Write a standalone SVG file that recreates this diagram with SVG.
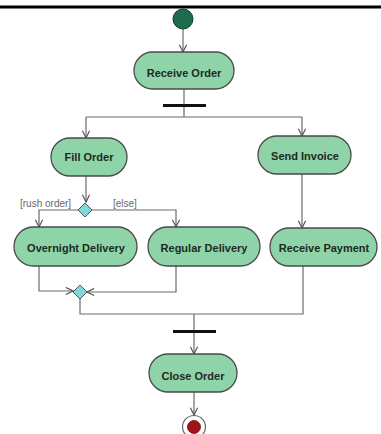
<svg xmlns="http://www.w3.org/2000/svg" width="381" height="434" viewBox="0 0 381 434">
  <style>
    .action rect { fill: #8fd3a9; stroke: #4a4a4a; stroke-width: 1.3; }
    .action text { font-family: "Liberation Sans", Arial, sans-serif; font-size: 11px; font-weight: bold; fill: #1e2a22; text-anchor: middle; }
    .flow { fill: none; stroke: #6a6a6a; stroke-width: 1.2; }
    .bar { fill: #111; }
    .decision { fill: #7fd8dc; stroke: #555; stroke-width: 1; }
    .guard { font-family: "Liberation Sans", Arial, sans-serif; font-size: 10px; fill: #666; }
  </style>
  <defs>
    <marker id="open" viewBox="0 0 10 10" refX="9" refY="5" markerWidth="9" markerHeight="9" markerUnits="userSpaceOnUse" orient="auto">
      <path d="M1,1 L9,5 L1,9" fill="none" stroke="#555" stroke-width="1.3"/>
    </marker>
  </defs>

  <rect width="381" height="434" fill="#ffffff"/>
  <rect x="0" y="5.5" width="381" height="3" fill="#000"/>

  <!-- connectors -->
  <g id="connectors">
    <path class="flow" d="M183,29 V52" marker-end="url(#open)"/>
    <path class="flow" d="M184,89 V117"/>
    <path class="flow" d="M86,117 H302"/>
    <path class="flow" d="M86,117 V138" marker-end="url(#open)"/>
    <path class="flow" d="M302,117 V136" marker-end="url(#open)"/>
    <path class="flow" d="M86,176 V202" marker-end="url(#open)"/>
    <path class="flow" d="M78,210 H39 V227" marker-end="url(#open)"/>
    <path class="flow" d="M92,210 H176 V227" marker-end="url(#open)"/>
    <path class="flow" d="M302,174 V228" marker-end="url(#open)"/>
    <path class="flow" d="M39,266 V291 H73" marker-end="url(#open)"/>
    <path class="flow" d="M176,266 V292 H87" marker-end="url(#open)"/>
    <path class="flow" d="M80,299 V314 H303 V266"/>
    <path class="flow" d="M194,314 V354" marker-end="url(#open)"/>
    <path class="flow" d="M194,392 V415" marker-end="url(#open)"/>
  </g>

  <!-- initial node -->
  <g id="start">
    <circle cx="183" cy="19" r="10" fill="#1f6b4e" stroke="#0f3f2d" stroke-width="1"/>
  </g>

  <g id="receive-order" class="action">
    <rect x="134" y="52" width="100" height="37" rx="18.5"/>
    <text x="184" y="77">Receive Order</text>
  </g>

  <g id="fork">
    <rect class="bar" x="163" y="104" width="43" height="3"/>
  </g>

  <g id="fill-order" class="action">
    <rect x="51" y="138" width="76" height="38" rx="19"/>
    <text x="89" y="161">Fill Order</text>
  </g>

  <g id="send-invoice" class="action">
    <rect x="258" y="136" width="93" height="38" rx="19"/>
    <text x="305" y="160">Send Invoice</text>
  </g>

  <g id="decision">
    <path class="decision" d="M85,203 L92,210 L85,217 L78,210 Z"/>
    <text class="guard" x="20" y="207">[rush order]</text>
    <text class="guard" x="113" y="207">[else]</text>
  </g>

  <g id="overnight-delivery" class="action">
    <rect x="14" y="227" width="123" height="39" rx="19.5"/>
    <text x="76" y="252">Overnight Delivery</text>
  </g>

  <g id="regular-delivery" class="action">
    <rect x="148" y="227" width="112" height="39" rx="19.5"/>
    <text x="204" y="252">Regular Delivery</text>
  </g>

  <g id="receive-payment" class="action">
    <rect x="270" y="228" width="107" height="38" rx="19"/>
    <text x="324" y="252">Receive Payment</text>
  </g>

  <g id="merge">
    <path class="decision" d="M80,285 L87,292 L80,299 L73,292 Z"/>
  </g>

  <g id="join">
    <rect class="bar" x="173" y="330" width="43" height="3"/>
  </g>

  <g id="close-order" class="action">
    <rect x="149" y="354" width="88" height="38" rx="19"/>
    <text x="193" y="380">Close Order</text>
  </g>

  <!-- final node -->
  <g id="end">
    <circle cx="194" cy="427" r="11.5" fill="#fff" stroke="#666" stroke-width="1.2"/>
    <circle cx="194" cy="427" r="6.5" fill="#a3141a" stroke="#6a0a0e" stroke-width="0.8"/>
  </g>
</svg>
